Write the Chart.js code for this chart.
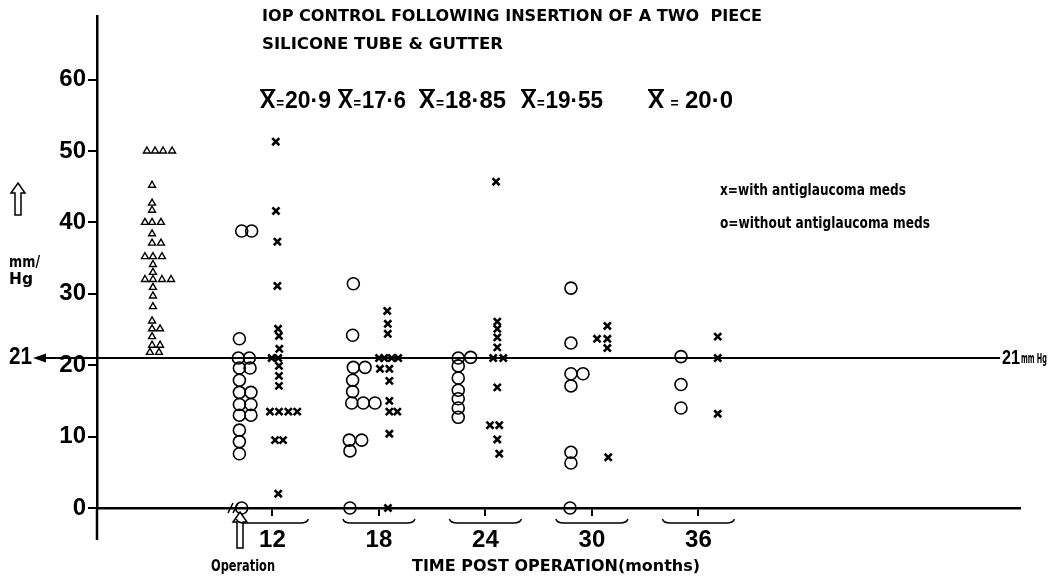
<!DOCTYPE html>
<html>
<head>
<meta charset="utf-8">
<script src="https://cdn.jsdelivr.net/npm/chart.js@4"></script>
<style>
  html, body { margin: 0; padding: 0; background: #fff; }
</style>
</head>
<body>
<canvas id="iop-chart" width="1050" height="582"></canvas>
<script>
// IOP after two piece silicone tube & gutter

const threshold = 21;
const tickMonths = [12, 18, 24, 30, 36];
const meanValues = ["20·9", "17·6", "18·85", "19·55", "20·0"];

// pre-operative IOP (triangles, drawn before the axis break)
const preOp = [
  [4.93, 50], [5.39, 50], [5.84, 50], [6.35, 50],
  [5.22, 45.2], [5.22, 42.7], [5.22, 41.7],
  [4.82, 40], [5.22, 40], [5.72, 40],
  [5.22, 38.4], [5.22, 37.1], [5.72, 37.1],
  [4.82, 35.2], [5.27, 35.2], [5.78, 35.2],
  [5.27, 34.1], [5.27, 33],
  [4.82, 32], [5.27, 32], [5.78, 32], [6.29, 32],
  [5.27, 30.9], [5.27, 29.7], [5.27, 28.2], [5.22, 26.2],
  [5.22, 25.1], [5.67, 25.1], [5.22, 24], [5.22, 22.8], [5.67, 22.8],
  [5.1, 21.8], [5.61, 21.8]
];

// o = without antiglaucoma meds  [month, mmHg]
const withoutMeds = [
  // 12 months
  [10.27, 38.8], [10.83, 38.8], [10.14, 23.7], [10.08, 21], [10.7, 21],
  [10.14, 19.6], [10.74, 19.6], [10.14, 17.9], [10.14, 16.2], [10.79, 16.2],
  [10.14, 14.5], [10.79, 14.5], [10.14, 13], [10.79, 13],
  [10.14, 10.9], [10.14, 9.3], [10.14, 7.6], [10.27, 0],
  // 18 months
  [16.56, 31.4], [16.52, 24.2], [16.56, 19.7], [17.22, 19.7], [16.52, 17.9],
  [16.52, 16.3], [16.47, 14.7], [17.12, 14.7], [17.78, 14.7],
  [16.33, 9.5], [17.03, 9.5], [16.37, 8], [16.37, 0],
  // 24 months
  [22.47, 21], [23.17, 21.1], [22.47, 19.9], [22.47, 18.2], [22.47, 16.5],
  [22.47, 15.3], [22.47, 14], [22.47, 12.7],
  // 30 months
  [28.82, 30.8], [28.82, 23.1], [28.82, 18.8], [29.5, 18.8], [28.82, 17.1],
  [28.82, 7.8], [28.82, 6.3], [28.77, 0],
  // 36 months
  [35.02, 21.2], [35.02, 17.3], [35.02, 14]
];

// x = with antiglaucoma meds  [month, mmHg]
const withMeds = [
  // 12 months
  [12.19, 51.3], [12.2, 41.6], [12.28, 37.3], [12.28, 31.1], [12.32, 25.1],
  [12.37, 24.1], [12.39, 22.3], [11.96, 21], [12.33, 21], [12.37, 19.9],
  [12.37, 18.5], [12.37, 17.1], [11.86, 13.5], [12.37, 13.5], [12.9, 13.5],
  [13.4, 13.5], [12.15, 9.5], [12.6, 9.5], [12.33, 2],
  // 18 months
  [18.47, 27.6], [18.5, 25.8], [18.5, 24.4], [18.01, 21], [18.3, 21],
  [18.72, 21], [19.09, 21], [18.06, 19.5], [18.59, 19.5], [18.59, 17.8],
  [18.59, 15], [18.59, 13.5], [19.04, 13.5], [18.59, 10.4], [18.51, 0],
  // 24 months
  [24.6, 45.7], [24.67, 26.1], [24.67, 25.1], [24.67, 23.9], [24.67, 22.5],
  [24.44, 21], [25.01, 21], [24.67, 16.9], [24.26, 11.6], [24.78, 11.6],
  [24.67, 9.6], [24.78, 7.6],
  // 30 months
  [30.87, 25.5], [30.29, 23.7], [30.87, 23.7], [30.87, 22.4], [30.92, 7.1],
  // 36 months
  [37.09, 24], [37.09, 21], [37.09, 13.2]
];

const NUMF = "'Liberation Sans', Arial, sans-serif";
const ROUND = "'DejaVu Sans', sans-serif";

function toXY(list) {
  return list.map(p => ({ x: p[0], y: p[1] }));
}

// draw text squeezed/stretched to a given width
function fitText(ctx, text, x, y, w, font) {
  ctx.save();
  ctx.font = font;
  const m = ctx.measureText(text).width;
  ctx.translate(x, y);
  ctx.scale(w / m, 1);
  ctx.fillText(text, 0, 0);
  ctx.restore();
}

function hollowArrow(ctx, cx, tipY, bottomY, headW, headH, shaftW) {
  ctx.beginPath();
  ctx.moveTo(cx, tipY);
  ctx.lineTo(cx + headW / 2, tipY + headH);
  ctx.lineTo(cx + shaftW / 2, tipY + headH);
  ctx.lineTo(cx + shaftW / 2, bottomY);
  ctx.lineTo(cx - shaftW / 2, bottomY);
  ctx.lineTo(cx - shaftW / 2, tipY + headH);
  ctx.lineTo(cx - headW / 2, tipY + headH);
  ctx.closePath();
  ctx.fillStyle = "#fff";
  ctx.fill();
  ctx.lineWidth = 1.5;
  ctx.stroke();
  ctx.fillStyle = "#000";
}

const annotations = {
  id: "iopAnnotations",
  afterDraw(chart) {
    const { ctx, scales: { x, y } } = chart;
    const yZero = y.getPixelForValue(0);
    ctx.save();
    ctx.strokeStyle = "#000";
    ctx.fillStyle = "#000";
    ctx.textBaseline = "middle";
    ctx.textAlign = "left";

    // y axis runs on below zero
    ctx.lineWidth = 2.5;
    ctx.beginPath();
    ctx.moveTo(x.left, yZero);
    ctx.lineTo(x.left, yZero + 32);
    ctx.stroke();

    // 21 mm Hg reference line
    const y21 = y.getPixelForValue(threshold);
    ctx.lineWidth = 2;
    ctx.beginPath();
    ctx.moveTo(44, y21);
    ctx.lineTo(1000, y21);
    ctx.stroke();
    ctx.beginPath();
    ctx.moveTo(33, y21);
    ctx.lineTo(46, y21 - 4.5);
    ctx.lineTo(46, y21 + 4.5);
    ctx.closePath();
    ctx.fill();
    fitText(ctx, String(threshold), 9, y21, 23, "bold 23px " + NUMF);
    fitText(ctx, String(threshold), 1002, y21, 18, "bold 21px " + NUMF);
    fitText(ctx, "mm Hg", 1021, y21 + 1, 26, "bold 14px " + ROUND);

    // axis break and operation marker
    ctx.lineWidth = 1.6;
    ctx.beginPath();
    ctx.moveTo(228, yZero + 5); ctx.lineTo(233, yZero - 5);
    ctx.moveTo(233, yZero + 5); ctx.lineTo(238, yZero - 5);
    ctx.stroke();
    hollowArrow(ctx, 240, yZero + 4, yZero + 40, 14, 10, 6);
    fitText(ctx, "Operation", 211, 567, 64, "bold 15px " + ROUND);
    fitText(ctx, "TIME POST OPERATION(months)", 412, 567, 288, "bold 15px " + ROUND);

    // brackets under the month ticks
    ctx.lineWidth = 1.4;
    x.ticks.forEach(t => {
      const px = x.getPixelForValue(t.value);
      const a = px - 36, b = px + 36, by = yZero + 15;
      ctx.beginPath();
      ctx.moveTo(a, by - 4);
      ctx.quadraticCurveTo(a + 1, by, a + 8, by);
      ctx.lineTo(b - 8, by);
      ctx.quadraticCurveTo(b - 1, by, b, by - 4);
      ctx.stroke();
    });

    // y axis label
    hollowArrow(ctx, 18, 183, 215, 14, 10, 6);
    fitText(ctx, "mm/", 9, 263, 31, "bold 15px " + ROUND);
    fitText(ctx, "Hg", 9, 280, 24, "bold 15px " + ROUND);

    // title
    fitText(ctx, "IOP CONTROL FOLLOWING INSERTION OF A TWO  PIECE", 262, 17, 500, "bold 16px " + ROUND);
    fitText(ctx, "SILICONE TUBE & GUTTER", 262, 45, 241, "bold 16px " + ROUND);

    // means
    const meanLeft = [260, 338, 419, 521, 648];
    const meanRight = [331, 406, 506, 603, 733];
    meanValues.forEach((v, i) => {
      ctx.save();
      ctx.font = "bold 24px " + NUMF;
      const wX = ctx.measureText("X").width;
      const wV = ctx.measureText(v).width;
      ctx.font = "bold 14px " + NUMF;
      const wEq = ctx.measureText("=").width;
      const target = meanRight[i] - meanLeft[i];
      const natural = wX + wEq + wV + 2;
      const s = Math.min(1, target / natural);
      const gap = Math.max(0, target / s - natural) / 2;
      ctx.translate(meanLeft[i], 101);
      ctx.scale(s, 1);
      ctx.font = "bold 24px " + NUMF;
      ctx.fillText("X", 0, 0);
      ctx.lineWidth = 2;
      ctx.beginPath();
      ctx.moveTo(0, -11);
      ctx.lineTo(wX, -11);
      ctx.stroke();
      ctx.font = "bold 14px " + NUMF;
      ctx.fillText("=", wX + 1 + gap, 3);
      ctx.font = "bold 24px " + NUMF;
      ctx.fillText(v, wX + wEq + 2 + 2 * gap, 0);
      ctx.restore();
    });

    // legend
    fitText(ctx, "x=with antiglaucoma meds", 720, 191, 186, "bold 16px " + ROUND);
    fitText(ctx, "o=without antiglaucoma meds", 720, 224, 210, "bold 16px " + ROUND);

    ctx.restore();
  }
};

const ctx = document.getElementById("iop-chart").getContext("2d");

new Chart(ctx, {
  type: "scatter",
  data: {
    datasets: [
      {
        label: "Pre-operative",
        data: toXY(preOp),
        pointStyle: "triangle",
        pointRadius: 4,
        borderWidth: 1.4,
        borderColor: "#000",
        backgroundColor: "rgba(0,0,0,0)",
        clip: false
      },
      {
        label: "without antiglaucoma meds",
        data: toXY(withoutMeds),
        pointStyle: "circle",
        pointRadius: 6,
        borderWidth: 1.6,
        borderColor: "#000",
        backgroundColor: "rgba(0,0,0,0)",
        clip: false
      },
      {
        label: "with antiglaucoma meds",
        data: toXY(withMeds),
        pointStyle: "crossRot",
        pointRadius: 5,
        borderWidth: 2.6,
        borderColor: "#000",
        backgroundColor: "#000",
        clip: false
      }
    ]
  },
  options: {
    responsive: false,
    animation: false,
    layout: { padding: { top: 10, right: 30, left: 0, bottom: 0 } },
    plugins: {
      legend: { display: false },
      tooltip: { enabled: false }
    },
    scales: {
      x: {
        type: "linear",
        min: 2.118,
        max: 54.12,
        afterBuildTicks: s => { s.ticks = tickMonths.map(v => ({ value: v })); },
        afterFit: s => { s.height = 74; },
        grid: { drawOnChartArea: false, drawTicks: true, tickLength: 8, color: "#000", lineWidth: 2 },
        border: { display: true, color: "#000", width: 2.5 },
        ticks: {
          color: "#000",
          padding: 10,
          maxRotation: 0,
          font: { family: NUMF, size: 24, weight: "bold" }
        }
      },
      y: {
        min: 0,
        max: 68.85,
        afterBuildTicks: s => { s.ticks = [0, 10, 20, 30, 40, 50, 60].map(v => ({ value: v })); },
        afterFit: s => { s.width = 97; },
        grid: { drawOnChartArea: false, drawTicks: true, tickLength: 9, color: "#000", lineWidth: 2 },
        border: { display: true, color: "#000", width: 2.5 },
        ticks: {
          color: "#000",
          padding: 2,
          font: { family: NUMF, size: 24, weight: "bold" }
        }
      }
    }
  },
  plugins: [annotations]
});
</script>
</body>
</html>
